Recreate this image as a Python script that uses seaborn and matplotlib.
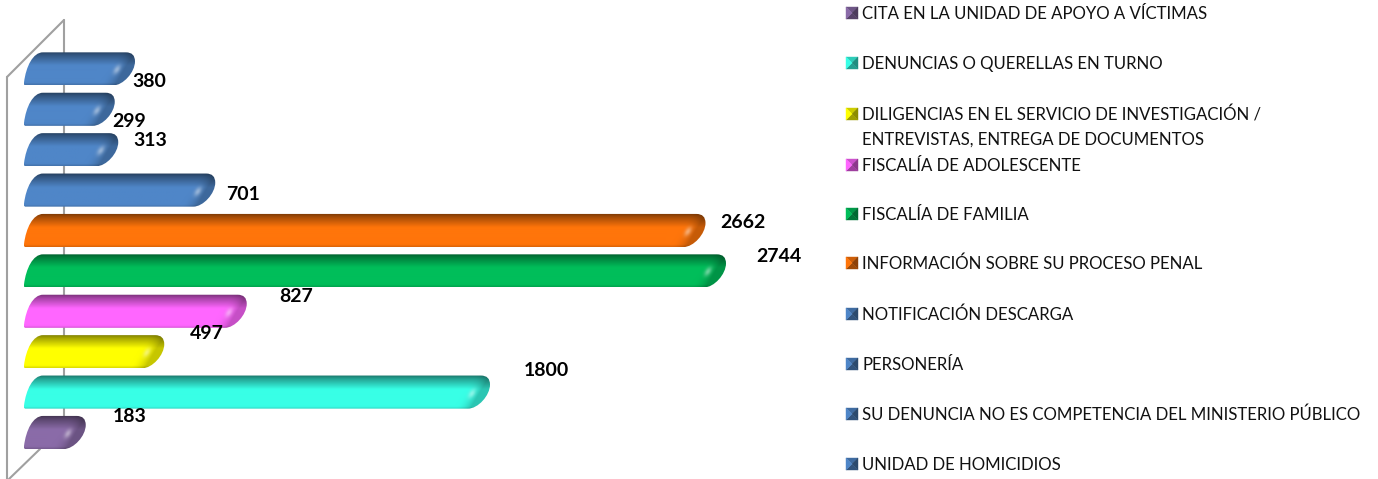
import numpy as np
import matplotlib
matplotlib.use("Agg")
import matplotlib.pyplot as plt
import seaborn as sns
from matplotlib.path import Path
from matplotlib.patches import PathPatch, Polygon

# categories bottom to top, same order as the legend
categories = ["CITA EN LA UNIDAD DE APOYO A VÍCTIMAS",
              "DENUNCIAS O QUERELLAS EN TURNO",
              "DILIGENCIAS EN EL SERVICIO DE INVESTIGACIÓN /\nENTREVISTAS, ENTREGA DE DOCUMENTOS",
              "FISCALÍA DE ADOLESCENTE",
              "FISCALÍA DE FAMILIA",
              "INFORMACIÓN SOBRE SU PROCESO PENAL",
              "NOTIFICACIÓN DESCARGA",
              "PERSONERÍA",
              "SU DENUNCIA NO ES COMPETENCIA DEL MINISTERIO PÚBLICO",
              "UNIDAD DE HOMICIDIOS"]
values = [183, 1800, 497, 827, 2744, 2662, 701, 313, 299, 380]
colors = ["#8A6BA8", "#38FFE6", "#FFFF00", "#FF66FF", "#00BE5A",
          "#FF750A", "#4F86C8", "#4F86C8", "#4F86C8", "#4F86C8"]

# label offsets from the bar end, pixels, down is positive (hand placed in the original)
label_dx = [44, 56, 43, 49, 53, 37, 28, 32, 14, 14]
label_dy = [-16, -22, -18, -15, -14, -8, 4, -9, 12, 13]
legend_y = [12, 62, 125, 164, 213, 262, 313, 363, 413, 463]

W, H = 1378, 479
PX_PER_UNIT = 0.25
PX_PER_ROW = 40.4
X0 = 24
Y0 = 432.5
DEPTH = 16

sns.set_theme(style="white")
plt.rcParams["font.family"] = ["Lato", "DejaVu Sans"]

fig, ax = plt.subplots(figsize=(W / 100, H / 100), dpi=100)
ax.set_position([0, 0, 1, 1])

sns.barplot(x=values, y=categories, hue=categories, palette=colors, orient="h", saturation=1,
            width=0.82, legend=False, dodge=False, ax=ax)

ax.set_xlim(-X0 / PX_PER_UNIT, (W - X0) / PX_PER_UNIT)
ax.set_ylim((Y0 - H) / PX_PER_ROW, Y0 / PX_PER_ROW)
ax.axis("off")


def px(x, y):
    return x / W, 1 - y / H


# back wall and floor of the 3d box
wall = [[(64, 20), (64, 425)], [(7, 77), (7, 479)], [(7, 77), (64, 20)], [(40, 449), (9, 479)]]
for seg in wall:
    xs, ys = zip(*[px(*p) for p in seg])
    ax.plot(xs, ys, color="#a0a0a0", lw=1.5, transform=ax.transAxes, zorder=0.5, clip_on=False)


def dx(p):
    return p / PX_PER_UNIT


def dy(p):
    return p / PX_PER_ROW


def bar_shape(v, bottom, top):
    # sheared rounded bar, y grows upward in data
    r = v + dx(DEPTH)
    verts = [(dx(1), bottom), (0, bottom + dy(1)), (0, bottom + dy(3)),
             (dx(2), top - dy(14)), (dx(9), top), (dx(19), top),
             (r - dx(9), top), (r, top), (r, top - dy(9)),
             (r, top - dy(20)), (r - dx(12), bottom), (r - dx(22), bottom),
             (dx(1), bottom), (dx(1), bottom)]
    codes = [Path.MOVETO, Path.LINETO, Path.LINETO,
             Path.CURVE4, Path.CURVE4, Path.CURVE4,
             Path.LINETO, Path.CURVE3, Path.CURVE3,
             Path.CURVE4, Path.CURVE4, Path.CURVE4,
             Path.LINETO, Path.CLOSEPOLY]
    return Path(verts, codes)


def bar_image(color, width_px, height_px):
    # vertical shading, darker end cap and a soft highlight
    base = np.array(matplotlib.colors.to_rgb(color))
    xx, yy = np.meshgrid(np.arange(width_px) + 0.5, np.arange(height_px) + 0.5)
    t = yy / height_px
    shade = np.interp(t, [0, 0.12, 0.42, 0.92, 1], [0.45, 0.65, 1, 1, 0.85])
    edge = width_px - 20 * t
    u = np.clip((xx - (edge - 16)) / 16, 0, 1)
    shade = shade * (1 - 0.22 * u ** 2)
    img = base[None, None, :] * shade[..., None]
    ox, oy = xx - (width_px - 18), yy - 18
    along = 0.6 * ox - 0.8 * oy
    across = 0.8 * ox + 0.6 * oy
    glow = 0.42 * np.exp(-(along ** 2 / 24 + across ** 2 / 8))
    img = img + (1 - img) * glow[..., None]
    return np.clip(img, 0, 1)


for patch in list(ax.patches):
    v = patch.get_width()
    patch.set_visible(False)
    if v == 0 or np.isnan(v):
        continue
    bottom = patch.get_y()
    top = bottom + patch.get_height()
    shape = PathPatch(bar_shape(v, bottom, top), transform=ax.transData, fc="none", ec="none")
    ax.add_patch(shape)
    w_px = int(round(v * PX_PER_UNIT)) + DEPTH
    im = ax.imshow(bar_image(patch.get_facecolor(), w_px, 33), origin="upper", aspect="auto",
                   extent=(0, v + dx(DEPTH), bottom, top), zorder=2, interpolation="bilinear")
    im.set_clip_path(shape)

ax.set_xlim(-X0 / PX_PER_UNIT, (W - X0) / PX_PER_UNIT)
ax.set_ylim((Y0 - H) / PX_PER_ROW, Y0 / PX_PER_ROW)

for i, v in enumerate(values):
    ax.annotate(str(v), xy=(v + dx(DEPTH), i), xytext=(label_dx[i] * 0.72, -label_dy[i] * 0.72),
                textcoords="offset points", ha="center", va="center",
                fontsize=14, fontweight="bold", color="black", zorder=5)

# legend is placed by hand, the rows are not evenly spaced in the original
for name, color, y in zip(categories, colors, legend_y):
    c = np.array(matplotlib.colors.to_rgb(color))
    ly = y - 12 if "\n" in name else y
    l, r, t, b = 846, 858, ly - 5, ly + 7
    mid = ((l + r) / 2, (t + b) / 2)
    faces = [([(l, t), (r, t), mid], 0.8), ([(r, t), (r, b), mid], 0.55),
             ([(r, b), (l, b), mid], 0.62), ([(l, b), (l, t), mid], 1.0)]
    for pts, f in faces:
        ax.add_patch(Polygon([px(*p) for p in pts], closed=True, fc=c * f, ec=c * f, lw=0.3,
                             transform=ax.transAxes, zorder=4))
    ax.text(*px(862, y + 2), name, transform=ax.transAxes, ha="left", va="center",
            fontsize=12.05, color="#111111", linespacing=1.6)

fig.savefig("out.png", dpi=100)
